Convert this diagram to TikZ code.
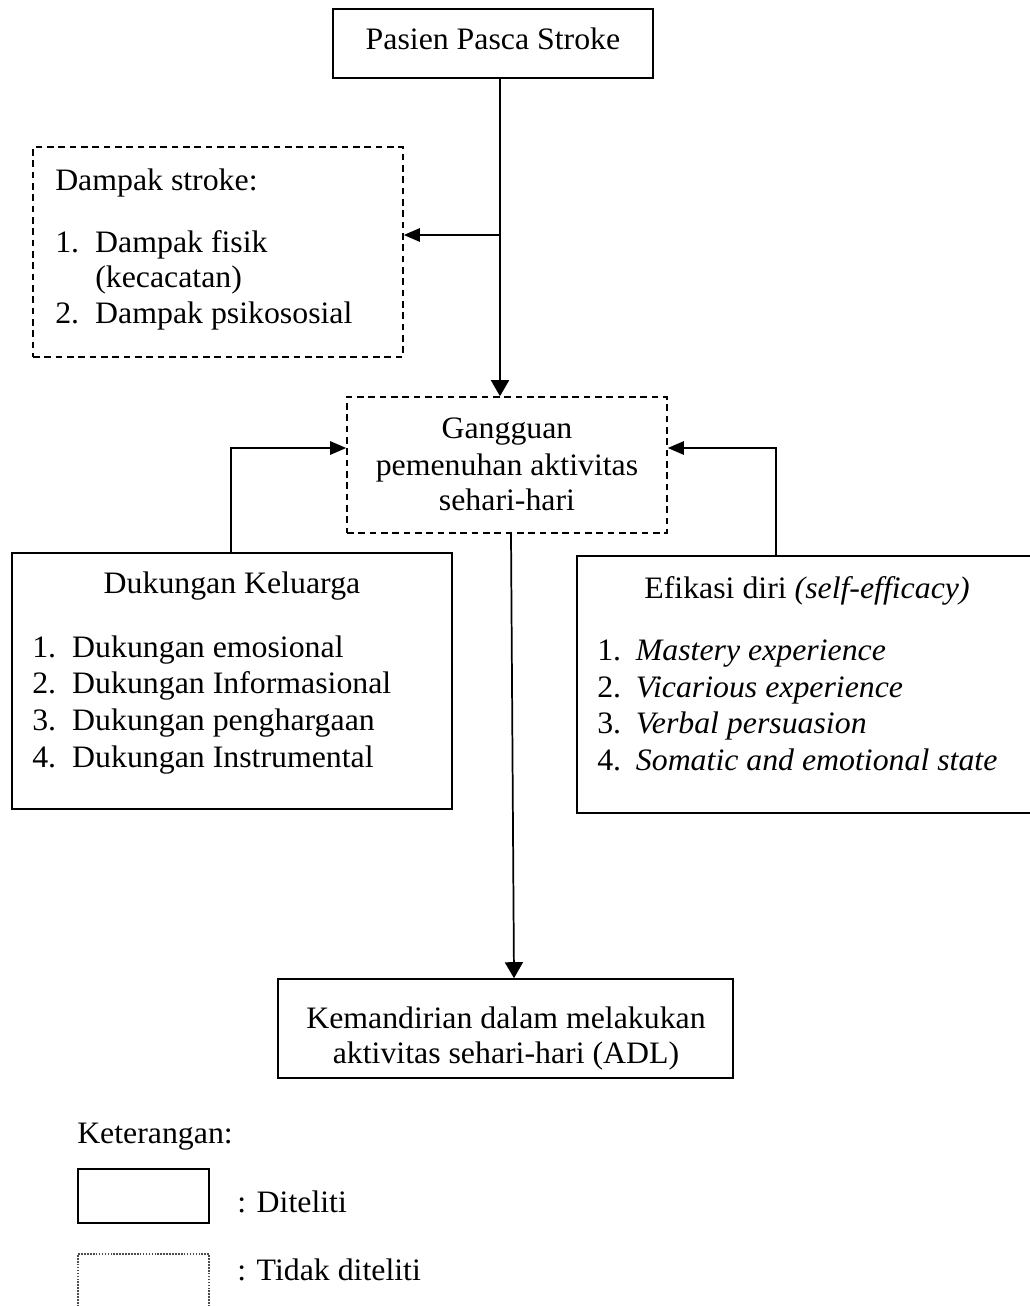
\documentclass[tikz,border=0pt]{standalone}
\usepackage{fontspec}
\setmainfont[FakeStretch=1.02]{Liberation Serif}
\usetikzlibrary{arrows.meta}
\tikzset{
  box/.style={draw, line width=1.2pt, inner sep=0pt},
  dbox/.style={draw, line width=1.2pt, inner sep=0pt, dash pattern=on 5pt off 3.5pt},
  dotbox/.style={draw=black!70, line width=0.8pt, inner sep=0pt, dash pattern=on 1.2pt off 1pt},
  txt/.style={inner sep=0pt, font=\fontsize{23.4pt}{27pt}\selectfont},
  lt/.style={txt, anchor=base west},
  ct/.style={txt, anchor=base},
  conn/.style={line width=1.3pt},
  arrH/.style={conn, -{Triangle[length=12pt,width=10pt]}},
  arrV/.style={conn, -{Triangle[length=12pt,width=13.5pt]}},
}
\begin{document}
\begin{tikzpicture}[x=0.75pt,y=-0.75pt]
\useasboundingbox (0,0) rectangle (1030,1306);
% boxes
\node[box, minimum width=240pt, minimum height=51.75pt] (top) at (493,43.5) {};
\node[dbox, minimum width=277.5pt, minimum height=157.5pt] (dampak) at (218,252) {};
\node[dbox, minimum width=240pt, minimum height=102pt] (gang) at (507,465) {};
\node[box, minimum width=330pt, minimum height=192pt] (duk) at (232,681) {};
\node[box, minimum width=345pt, minimum height=192.75pt] (efi) at (807,684.5) {};
\node[box, minimum width=341.25pt, minimum height=74.25pt] (mand) at (505.5,1028.5) {};
\node[box, minimum width=98.25pt, minimum height=40.5pt] (legA) at (143.5,1196) {};
\node[dotbox, minimum width=98.25pt, minimum height=64.5pt] (legB) at (143.5,1297) {};
% texts
\node[ct] (t1) at (493,50) {Pasien Pasca Stroke};
\node[lt] (d0) at (55,190) {Dampak stroke:};
\node[lt] (d1) at (55,252) {\makebox[30pt][l]{1.}Dampak fisik};
\node[lt] (d2) at (95,287) {(kecacatan)};
\node[lt] (d3) at (55,323) {\makebox[30pt][l]{2.}Dampak psikososial};
\node[ct] (g1) at (507,438) {Gangguan};
\node[ct] (g2) at (507,475) {pemenuhan aktivitas};
\node[ct] (g3) at (507,510) {sehari-hari};
\node[ct] (k0) at (232,593) {Dukungan Keluarga};
\node[lt] (k1) at (32,657) {\makebox[30pt][l]{1.}Dukungan emosional};
\node[lt] (k2) at (32,693) {\makebox[30pt][l]{2.}Dukungan Informasional};
\node[lt] (k3) at (32,730) {\makebox[30pt][l]{3.}Dukungan penghargaan};
\node[lt] (k4) at (32,767) {\makebox[30pt][l]{4.}Dukungan Instrumental};
\node[ct] (e0) at (807,598) {Efikasi diri \textit{(self-efficacy)}};
\node[lt] (e1) at (597,660) {\makebox[29pt][l]{1.}\textit{Mastery experience}};
\node[lt] (e2) at (597,697) {\makebox[29pt][l]{2.}\textit{Vicarious experience}};
\node[lt] (e3) at (597,733) {\makebox[29pt][l]{3.}\textit{Verbal persuasion}};
\node[lt] (e4) at (597,770) {\makebox[29pt][l]{4.}\textit{Somatic and emotional state}};
\node[ct] (m1) at (506,1028) {Kemandirian dalam melakukan};
\node[ct] (m2) at (506,1063) {aktivitas sehari-hari (ADL)};
\node[lt] (ket) at (77,1143) {Keterangan:};
\node[lt] (la) at (237,1212) {: Diteliti};
\node[lt] (lb) at (237,1280) {: Tidak diteliti};
% connectors
\coordinate (cx) at (500,0);
\coordinate (br) at (500,235);
\coordinate (gl) at (347,448);
\coordinate (rx) at (776,0);
\coordinate (bs) at (511,0);
\coordinate (be) at (514,0);
\coordinate (lx) at (231,0);
\draw[arrV] (top.south -| cx) -- (gang.north -| cx);
\draw[arrH] (br) -- (br -| dampak.east);
\draw[arrH] (duk.north -| lx) |- (gang.west |- gl);
\draw[arrH] (efi.north -| rx) |- (gang.east |- gl);
\draw[arrV] (gang.south -| bs) -- (mand.north -| be);
\end{tikzpicture}
\end{document}
